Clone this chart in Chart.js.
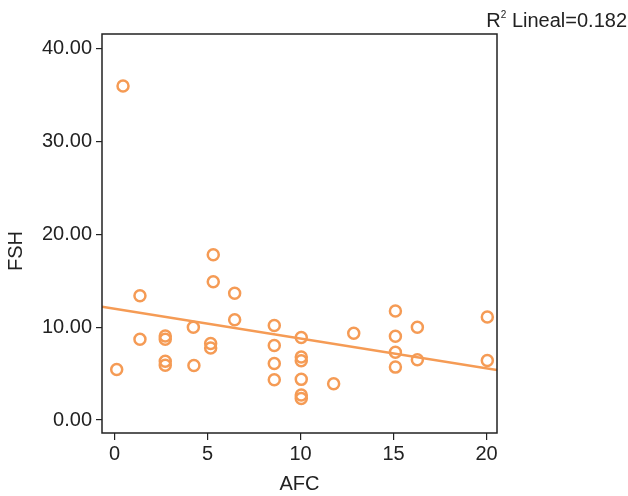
<!DOCTYPE html>
<html>
<head>
<meta charset="utf-8">
<script src="https://cdn.jsdelivr.net/npm/chart.js@4"></script>
<style>
  html, body { margin: 0; padding: 0; background: #fff; }
  #wrap { width: 628px; height: 496px; }
</style>
</head>
<body>
<div id="wrap"><canvas id="chart" width="628" height="496"></canvas></div>
<script>
// values
const afc = [0.12, 0.46, 1.37, 1.37, 2.73, 2.73, 2.73, 2.73, 4.24, 4.27,
  5.31, 5.31, 5.17, 5.17, 6.46, 6.46, 8.59, 8.59, 8.59, 8.59,
  10.04, 10.04, 10.04, 10.04, 10.04, 10.04, 11.78, 12.86,
  15.1, 15.1, 15.1, 15.1, 16.28, 16.28, 20.04, 20.04];
const fsh = [5.45, 36.0, 13.4, 8.7, 9.06, 8.7, 6.34, 5.9, 10.0, 5.88,
  17.8, 14.9, 8.24, 7.77, 13.66, 10.8, 10.18, 8.03, 6.1, 4.33,
  8.9, 6.8, 6.38, 4.38, 2.69, 2.33, 3.9, 9.35,
  11.75, 9.03, 7.3, 5.7, 10.0, 6.5, 11.1, 6.42];
// fit line ends (x, y) as drawn
const fitX = [-0.67, 20.56];
const fitY = [12.2, 5.4];
const xTicks = [0, 5, 10, 15, 20];
const yTicks = [0, 10, 20, 30, 40];
const r2Text = "Lineal=0.182";
const yTitle = "FSH";

const orange = "#f59b55";
const ink = "#222";
const fam = "'Liberation Sans', Arial, sans-serif";

const points = afc.map((x, i) => ({ x, y: fsh[i] }));
const fit = fitX.map((x, i) => ({ x, y: fitY[i] }));

const framePlugin = {
  id: "frame",
  afterDraw(chart) {
    const { ctx, chartArea: a } = chart;
    ctx.save();
    ctx.strokeStyle = ink;
    ctx.lineWidth = 1.5;
    ctx.strokeRect(a.left, a.top, a.right - a.left, a.bottom - a.top);

    ctx.fillStyle = ink;
    // y axis title, sits a bit below the middle as in the picture
    ctx.save();
    ctx.translate(16, 251);
    ctx.rotate(-Math.PI / 2);
    ctx.textAlign = "center";
    ctx.textBaseline = "middle";
    ctx.font = `20px ${fam}`;
    ctx.fillText(yTitle, 0, 0);
    ctx.restore();

    // R² label, top right
    ctx.textBaseline = "alphabetic";
    ctx.textAlign = "left";
    const rest = " " + r2Text;
    ctx.font = `20px ${fam}`;
    const wR = ctx.measureText("R").width;
    const wRest = ctx.measureText(rest).width;
    ctx.font = `10px ${fam}`;
    const w2 = ctx.measureText("2").width;
    let x = 627 - wR - w2 - wRest;
    ctx.font = `20px ${fam}`;
    ctx.fillText("R", x, 27);
    x += wR;
    ctx.font = `10px ${fam}`;
    ctx.fillText("2", x, 18);
    x += w2;
    ctx.font = `20px ${fam}`;
    ctx.fillText(rest, x, 27);
    ctx.restore();
  },
};

const font = { family: fam, size: 20 };

new Chart(document.getElementById("chart"), {
  data: {
    datasets: [
      {
        type: "line",
        data: fit,
        borderColor: orange,
        borderWidth: 2.5,
        pointRadius: 0,
        fill: false,
      },
      {
        type: "scatter",
        data: points,
        pointStyle: "circle",
        pointRadius: 5.5,
        borderWidth: 2.5,
        borderColor: orange,
        backgroundColor: "rgba(255,255,255,0)",
      },
    ],
  },
  options: {
    responsive: false,
    animation: false,
    devicePixelRatio: 1,
    layout: { padding: { top: 34, right: 131, left: 0, bottom: 0 } },
    plugins: { legend: { display: false }, tooltip: { enabled: false } },
    scales: {
      x: {
        type: "linear",
        min: -0.67,
        max: 20.56,
        border: { display: false },
        grid: { drawOnChartArea: false, color: ink, tickLength: 7, lineWidth: 1.2 },
        ticks: { font, color: ink, padding: 2, maxRotation: 0 },
        afterBuildTicks: (s) => { s.ticks = xTicks.map((v) => ({ value: v })); },
        afterFit: (s) => { s.height = 63; },
        title: { display: true, text: "AFC", font, color: ink, padding: { top: 2, bottom: 0 } },
      },
      y: {
        type: "linear",
        min: -1.4,
        max: 41.6,
        border: { display: false },
        grid: { drawOnChartArea: false, color: ink, tickLength: 6, lineWidth: 1.2 },
        ticks: { font, color: ink, padding: 4, callback: (v) => Number(v).toFixed(2) },
        afterBuildTicks: (s) => { s.ticks = yTicks.map((v) => ({ value: v })); },
        afterFit: (s) => { s.width = 102; },
        title: { display: false },
      },
    },
  },
  plugins: [framePlugin],
});
</script>
</body>
</html>
